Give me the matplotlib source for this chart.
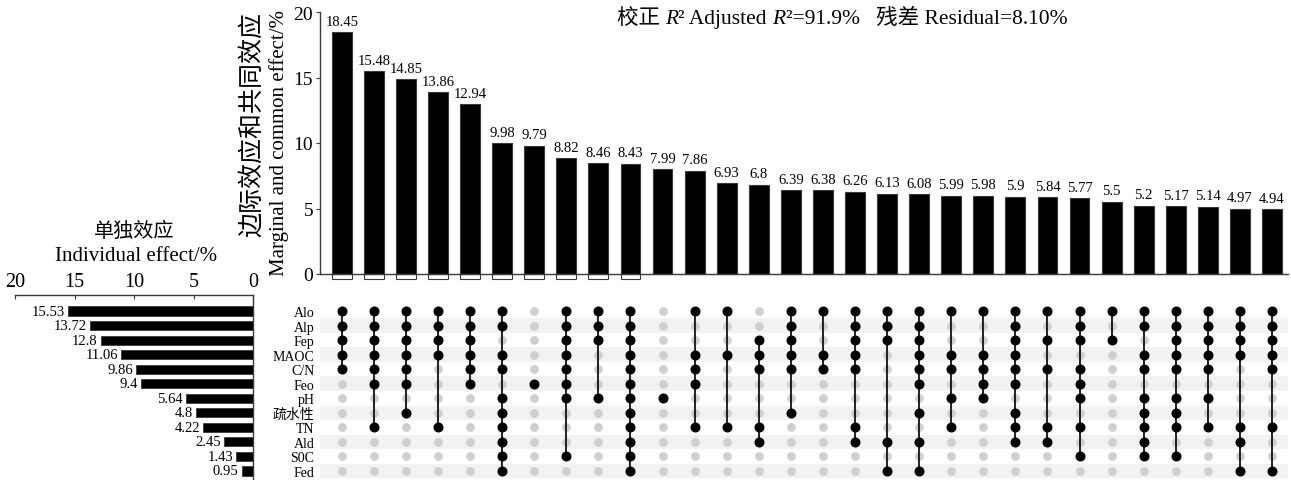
import matplotlib
matplotlib.use("Agg")
import matplotlib.pyplot as plt

FAMILY = ["Liberation Serif", "Noto Sans CJK SC", "DejaVu Sans"]
plt.rcParams["font.family"] = FAMILY

# Explanatory factors (rows of the membership matrix, top to bottom)
factors = ["Alo", "Alp", "Fep", "MAOC", "C/N", "Feo", "pH", "疏水性", "TN", "Ald", "S0C", "Fed"]

# Individual effect of each factor (%)
individual = [15.53, 13.72, 12.8, 11.06, 9.86, 9.4, 5.64, 4.8, 4.22, 2.45, 1.43, 0.95]

# Marginal and common effect of each factor combination (%)
shared = [18.45, 15.48, 14.85, 13.86, 12.94, 9.98, 9.79, 8.82, 8.46, 8.43,
          7.99, 7.86, 6.93, 6.8, 6.39, 6.38, 6.26, 6.13, 6.08, 5.99,
          5.98, 5.9, 5.84, 5.77, 5.5, 5.2, 5.17, 5.14, 4.97, 4.94]

# Negative part of the first combinations (drawn as hollow boxes below zero)
negative = [0.35, 0.35, 0.35, 0.35, 0.35, 0.35, 0.35, 0.35, 0.35, 0.35,
            0, 0, 0, 0, 0, 0, 0, 0, 0, 0,
            0, 0, 0, 0, 0, 0, 0, 0, 0, 0]

# Factors that make up each combination
combos = [
    ["Alo", "Alp", "Fep", "MAOC", "C/N"],
    ["Alo", "Alp", "Fep", "MAOC", "C/N", "Feo", "TN"],
    ["Alo", "Alp", "Fep", "MAOC", "C/N", "Feo", "疏水性"],
    ["Alo", "Alp", "Fep", "MAOC", "TN"],
    ["Alo", "Alp", "Fep", "MAOC", "C/N", "Feo"],
    ["Alo", "Alp", "MAOC", "C/N", "pH", "疏水性", "TN", "Ald", "S0C", "Fed"],
    ["Feo"],
    ["Alo", "Alp", "Fep", "MAOC", "C/N", "Feo", "pH", "S0C"],
    ["Alo", "Alp", "Fep", "pH"],
    ["Alo", "Alp", "Fep", "MAOC", "C/N", "Feo", "pH", "疏水性", "TN", "Ald", "S0C", "Fed"],
    ["pH"],
    ["Alo", "MAOC", "C/N", "Feo", "TN"],
    ["Alo", "MAOC", "TN"],
    ["Fep", "MAOC", "C/N", "TN", "Ald"],
    ["Alo", "Alp", "Fep", "MAOC", "C/N", "疏水性"],
    ["Alo", "MAOC", "C/N"],
    ["Alo", "Alp", "Fep", "MAOC", "C/N", "TN", "Ald"],
    ["Alo", "Alp", "Fep", "Ald", "Fed"],
    ["Alo", "Alp", "Fep", "MAOC", "C/N", "Feo", "疏水性", "Ald", "Fed"],
    ["Alo", "MAOC", "C/N", "pH", "TN"],
    ["Alo", "MAOC", "C/N", "Feo", "pH"],
    ["Alo", "Alp", "Fep", "MAOC", "C/N", "Feo", "疏水性", "TN", "Ald"],
    ["Alo", "Fep", "C/N", "TN", "Ald"],
    ["Alo", "Alp", "Fep", "C/N", "Feo", "pH", "TN", "S0C"],
    ["Alo", "Fep"],
    ["Alo", "Alp", "MAOC", "C/N", "pH", "疏水性", "TN", "Ald", "S0C"],
    ["Alo", "Alp", "Fep", "MAOC", "C/N", "pH", "疏水性", "TN", "S0C"],
    ["Alo", "Alp", "Fep", "MAOC", "C/N", "pH", "TN"],
    ["Alo", "Alp", "Fep", "MAOC", "TN", "Ald", "Fed"],
    ["Alo", "Alp", "Fep", "MAOC", "C/N", "TN", "Fed"],
]

W, H = 1291, 481
fig = plt.figure(figsize=(W / 100, H / 100), dpi=100)


def frac(x0, y0, x1, y1):
    """Axes rectangle from pixel edges (left, top, right, bottom)."""
    return [x0 / W, 1 - y1 / H, (x1 - x0) / W, (y1 - y0) / H]


SPINE = "#3a3a3a"
n_rows = len(factors)
n_cols = len(shared)
row_y = {f: n_rows - 1 - i for i, f in enumerate(factors)}
xs = list(range(n_cols))
xlim = (-0.68, n_cols - 0.5)

# ---- top: combination bars ----
ax_top = fig.add_axes(frac(320, 13, 1288, 275))
ax_top.bar(xs, shared, width=0.62, color="black", edgecolor=SPINE, linewidth=0.8)
ax_top.bar(xs, [-v for v in negative], width=0.62, color="white",
           edgecolor=SPINE, linewidth=0.8, clip_on=False)
for x, v in zip(xs, shared):
    ax_top.text(x, v + 0.35, f"{v:g}", ha="center", va="bottom", fontsize=10.5)
ax_top.set_xlim(*xlim)
ax_top.set_ylim(0, 20)
ax_top.set_yticks([0, 5, 10, 15, 20])
ax_top.set_xticks([])
ax_top.tick_params(axis="y", labelsize=14, length=3, width=0.8, color=SPINE, pad=2)
for s in ["top", "right"]:
    ax_top.spines[s].set_visible(False)
for s in ["left", "bottom"]:
    ax_top.spines[s].set_color(SPINE)
    ax_top.spines[s].set_linewidth(1.0)

fig.text(252 / W, 1 - 125 / H, "边际效应和共同效应", rotation=90,
         ha="center", va="center", fontsize=18)
fig.text(279 / W, 1 - 143 / H, "Marginal and common effect/%", rotation=90,
         ha="center", va="center", fontsize=15)

# ---- heading with adjusted R² and residual ----
pieces = [("校正 ", "normal"), ("R", "italic"), ("² Adjusted ", "normal"),
          ("R", "italic"), ("²=91.9%   残差 Residual=8.10%", "normal")]
prev = fig.text(617 / W, 1 - 29 / H, pieces[0][0], fontsize=15.5, style=pieces[0][1],
                ha="left", va="bottom")
for txt, st in pieces[1:]:
    prev = ax_top.annotate(txt, xy=(1, 0), xycoords=prev, ha="left", va="bottom",
                           fontsize=15.5, style=st, annotation_clip=False)

# ---- bottom: membership matrix ----
ax_mat = fig.add_axes(frac(320, 304.7, 1288, 479.3), sharex=ax_top)
for f in factors:
    y = row_y[f]
    if (n_rows - 1 - y) % 2 == 1:
        ax_mat.axhspan(y - 0.5, y + 0.5, color="#f1f2f2", zorder=0, lw=0)
for x, combo in zip(xs, combos):
    ax_mat.scatter([x] * n_rows, list(row_y.values()), s=40, color="#cfcfcf",
                   zorder=2, linewidths=0)
    ys = [row_y[f] for f in combo]
    if len(ys) > 1:
        ax_mat.plot([x, x], [min(ys), max(ys)], color="#111111", lw=1.3, zorder=3)
    ax_mat.scatter([x] * len(ys), ys, s=52, color="black", zorder=4, linewidths=0)
ax_mat.set_ylim(-0.5, n_rows - 0.5)
ax_mat.set_xlim(*xlim)
ax_mat.set_yticks([row_y[f] for f in factors])
ax_mat.set_yticklabels(factors, fontsize=10)
ax_mat.tick_params(axis="y", length=0, pad=4)
ax_mat.tick_params(axis="x", bottom=False, labelbottom=False)
for s in ax_mat.spines.values():
    s.set_visible(False)

# ---- left: individual effects ----
ax_left = fig.add_axes(frac(15, 296, 253, 480))
ax_left.barh([row_y[f] for f in factors], individual, height=0.62,
             color="black", edgecolor=SPINE, linewidth=0.6)
for f, v in zip(factors, individual):
    ax_left.text(v + 0.25, row_y[f], f"{v:g}", ha="right", va="center", fontsize=10.5)
ax_left.set_xlim(20, 0)
ax_left.set_ylim(-0.55, n_rows - 0.5 + 0.6)
ax_left.xaxis.tick_top()
ax_left.set_xticks([20, 15, 10, 5, 0])
ax_left.set_yticks([])
ax_left.tick_params(axis="x", labelsize=14.5, length=3, width=0.8, color=SPINE,
                    direction="in", pad=3)
for s in ["left", "bottom"]:
    ax_left.spines[s].set_visible(False)
for s in ["top", "right"]:
    ax_left.spines[s].set_color(SPINE)
    ax_left.spines[s].set_linewidth(1.0)

fig.text(134 / W, 1 - 232 / H, "单独效应", ha="center", va="center", fontsize=14.5)
fig.text(136 / W, 1 - 257 / H, "Individual effect/%", ha="center", va="center", fontsize=15)

fig.savefig("out.png", dpi=100)
